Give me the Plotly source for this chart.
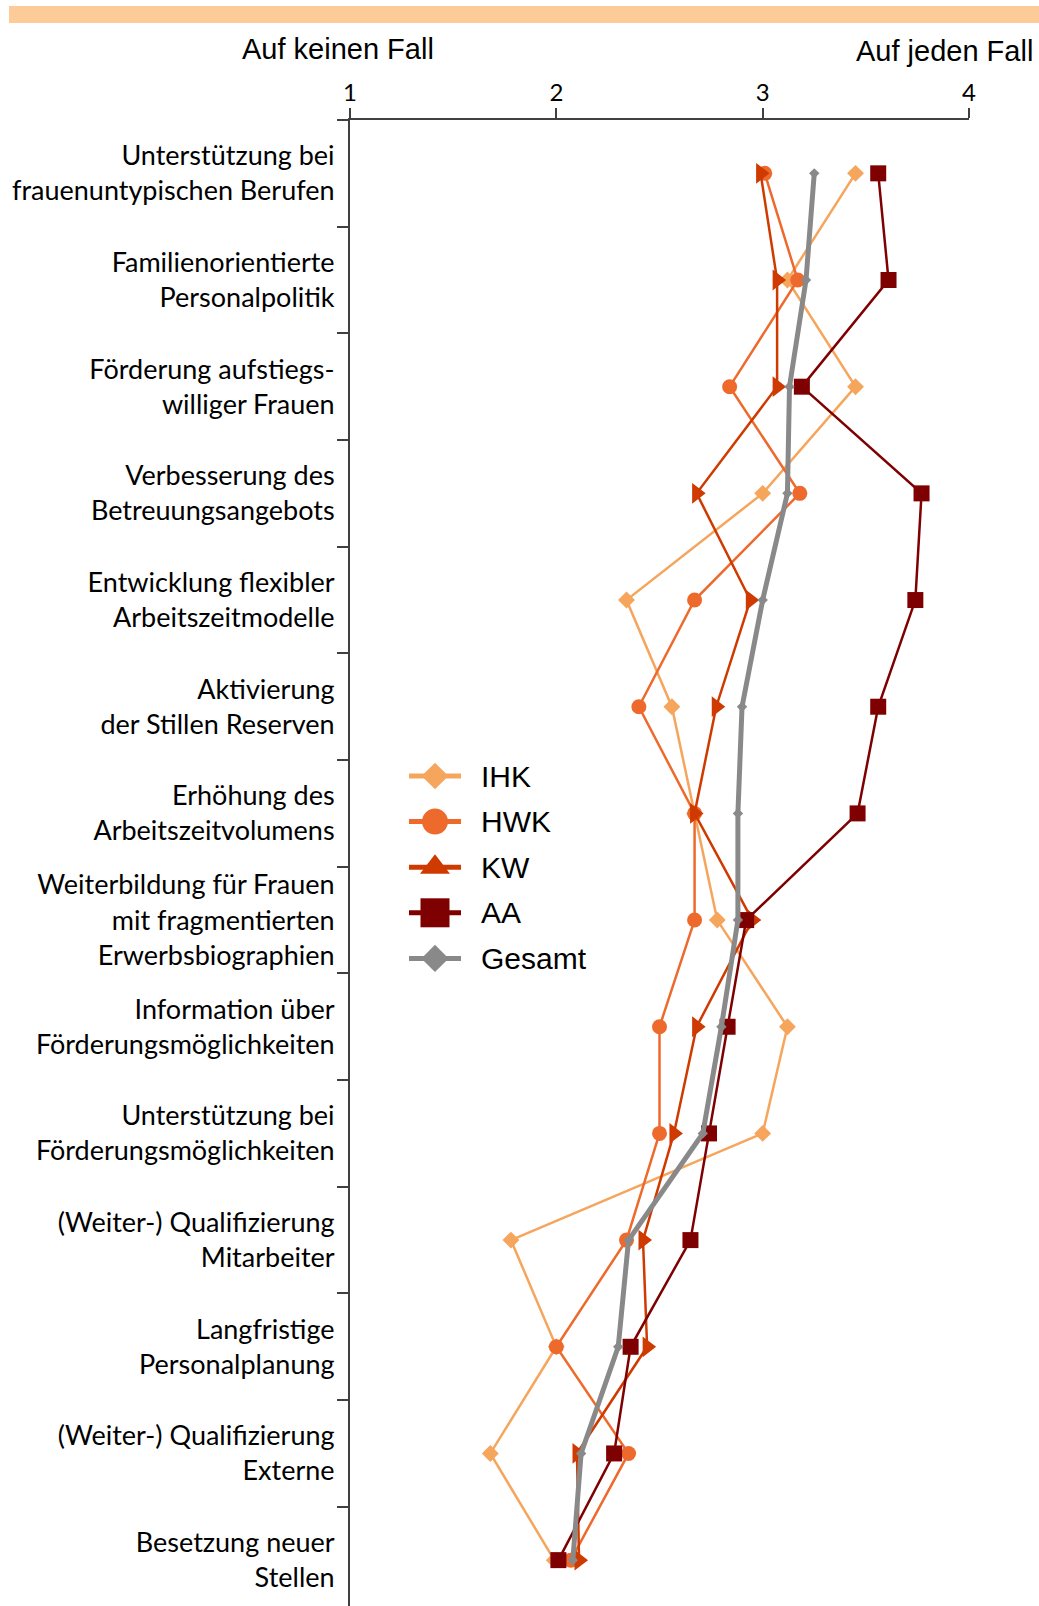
import plotly.graph_objects as go

# Survey categories (top to bottom) and mean ratings per institution (scale 1..4)
categories = [
    "Unterstützung bei<br>frauenuntypischen Berufen",
    "Familienorientierte<br>Personalpolitik",
    "Förderung aufstiegs-<br>williger Frauen",
    "Verbesserung des<br>Betreuungsangebots",
    "Entwicklung flexibler<br>Arbeitszeitmodelle",
    "Aktivierung<br>der Stillen Reserven",
    "Erhöhung des<br>Arbeitszeitvolumens",
    "Weiterbildung für Frauen<br>mit fragmentierten<br>Erwerbsbiographien",
    "Information über<br>Förderungsmöglichkeiten",
    "Unterstützung bei<br>Förderungsmöglichkeiten",
    "(Weiter-) Qualifizierung<br>Mitarbeiter",
    "Langfristige<br>Personalplanung",
    "(Weiter-) Qualifizierung<br>Externe",
    "Besetzung neuer<br>Stellen",
]

ihk = [3.45, 3.12, 3.45, 3.00, 2.34, 2.56, 2.67, 2.78, 3.12, 3.00, 1.78, 2.00, 1.68, 1.99]
hwk = [3.01, 3.17, 2.84, 3.18, 2.67, 2.40, 2.67, 2.67, 2.50, 2.50, 2.34, 2.00, 2.35, 2.07]
kw = [2.99, 3.07, 3.07, 2.68, 2.94, 2.775, 2.67, 2.95, 2.68, 2.57, 2.42, 2.44, 2.10, 2.11]
aa = [3.56, 3.61, 3.19, 3.77, 3.74, 3.56, 3.46, 2.92, 2.83, 2.74, 2.65, 2.36, 2.28, 2.01]
gesamt = [3.25, 3.21, 3.13, 3.12, 3.00, 2.90, 2.88, 2.88, 2.80, 2.71, 2.35, 2.30, 2.12, 2.08]

series_names = ["IHK", "HWK", "KW", "AA", "Gesamt"]
x_ticks = [1, 2, 3, 4]
scale_low = "Auf keinen Fall"
scale_high = "Auf jeden Fall"

# Page geometry
W, H = 1039, 1606
ML, MR, MT, MB = 350, 70, 120, 0
PW, PH = W - ML - MR, H - MT - MB

LABEL_FONT = "Lato"
HEAD_FONT = "Liberation Sans"

styles = {
    "IHK": dict(color="#F5A55C", symbol="diamond", size=13, width=2.5,
                leg_symbol="diamond", leg_size=20.5),
    "HWK": dict(color="#EE6A2C", symbol="circle", size=15, width=2.5,
                leg_symbol="circle", leg_size=26),
    "KW": dict(color="#CF3A00", symbol="triangle-right", size=18, width=2.5,
               leg_symbol="triangle-up", leg_size=26),
    "AA": dict(color="#7F0000", symbol="square", size=16, width=2.5,
               leg_symbol="square", leg_size=29),
    "Gesamt": dict(color="#898989", symbol="diamond", size=8, width=5,
                   leg_symbol="diamond", leg_size=21),
}
values = {"IHK": ihk, "HWK": hwk, "KW": kw, "AA": aa, "Gesamt": gesamt}

fig = go.Figure()

for name in series_names:
    st = styles[name]
    fig.add_trace(go.Scatter(
        x=values[name], y=categories, mode="lines+markers", name=name,
        line=dict(color=st["color"], width=st["width"]),
        marker=dict(symbol=st["symbol"], size=st["size"], color=st["color"],
                    line=dict(width=0)),
        showlegend=False, cliponaxis=False,
    ))

# Legend keys drawn on a pixel-based overlay axis pair
LEG_X0, LEG_X1, LEG_XM = 409, 461, 435
LEG_TEXT_X = 479
LEG_Y0, LEG_DY = 776, 45.6
for i, name in enumerate(series_names):
    st = styles[name]
    yy = LEG_Y0 + i * LEG_DY
    fig.add_trace(go.Scatter(
        x=[LEG_X0, LEG_X1], y=[yy, yy], mode="lines",
        line=dict(color=st["color"], width=5),
        xaxis="x2", yaxis="y2", showlegend=False, hoverinfo="skip",
    ))
    fig.add_trace(go.Scatter(
        x=[LEG_XM], y=[yy], mode="markers",
        marker=dict(symbol=st["leg_symbol"], size=st["leg_size"], color=st["color"],
                    line=dict(width=0)),
        xaxis="x2", yaxis="y2", showlegend=False, hoverinfo="skip",
    ))
    fig.add_annotation(
        x=LEG_TEXT_X, y=yy, xref="x2", yref="y2", text=name, showarrow=False,
        xanchor="left", yanchor="middle",
        font=dict(family=HEAD_FONT, size=30, color="#000000"),
    )


def px_x(p):
    return (p - ML) / PW


def px_y(p):
    return (H - MB - p) / PH


# Decorative band across the top
fig.add_shape(type="rect", xref="paper", yref="paper",
              x0=px_x(9), x1=px_x(W + 2), y0=px_y(23), y1=px_y(6),
              fillcolor="#FDCB97", line=dict(width=0), layer="above")

fig.add_annotation(x=px_x(338), y=px_y(49), xref="paper", yref="paper",
                   text=scale_low, showarrow=False, xanchor="center", yanchor="middle",
                   font=dict(family=HEAD_FONT, size=29, color="#000000"))
fig.add_annotation(x=px_x(1035), y=px_y(51), xref="paper", yref="paper",
                   text=scale_high, showarrow=False, xanchor="right", yanchor="middle",
                   font=dict(family=HEAD_FONT, size=29, color="#000000"))

axis_color = "#404040"
fig.update_layout(
    width=W, height=H,
    margin=dict(l=ML, r=MR, t=MT, b=MB, pad=0),
    paper_bgcolor="white", plot_bgcolor="rgba(0,0,0,0)",
    showlegend=False,
    xaxis=dict(
        side="top", range=[1, 4], tickvals=x_ticks, ticktext=[str(v) for v in x_ticks],
        showgrid=False, zeroline=False, showline=True, linecolor=axis_color, linewidth=2,
        ticks="outside", ticklen=10, tickwidth=2, tickcolor=axis_color,
        tickfont=dict(family=LABEL_FONT, size=24, color="#000000"),
        ticklabelstandoff=-3,
        fixedrange=True,
    ),
    yaxis=dict(
        type="category", categoryorder="array", categoryarray=categories,
        range=[13.43, -0.5], tickson="boundaries",
        showgrid=False, zeroline=False, showline=True, linecolor=axis_color, linewidth=2,
        ticks="outside", ticklen=11, tickwidth=2, tickcolor=axis_color,
        tickfont=dict(family=LABEL_FONT, size=27, color="#000000"),
        ticklabelstandoff=8,
        fixedrange=True,
    ),
    xaxis2=dict(domain=[0, 1], anchor="y2", range=[ML, W - MR], visible=False,
                fixedrange=True),
    yaxis2=dict(domain=[0, 1], anchor="x2", range=[H - MB, MT], visible=False,
                fixedrange=True),
)

fig.write_html("out.html")
